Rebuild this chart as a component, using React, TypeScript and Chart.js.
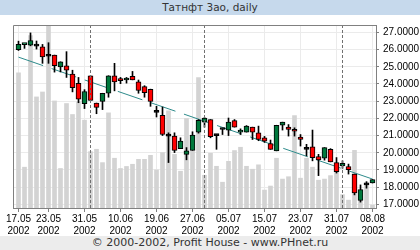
import React, { useEffect, useRef } from 'react';
import { Chart, registerables } from 'chart.js';

Chart.register(...registerables);

const title = 'Татнфт 3ао, daily';
const footer = '© 2000-2002, Profit House - www.PHnet.ru';
const year = '2002';

const dates = ['17.05','18.05','20.05','21.05','22.05','23.05','24.05','27.05','28.05','29.05','30.05','31.05','03.06','04.06','05.06','06.06','07.06','10.06','11.06','13.06','14.06','17.06','18.06','19.06','20.06','21.06','24.06','25.06','26.06','27.06','28.06','01.07','02.07','03.07','04.07','05.07','08.07','09.07','10.07','11.07','12.07','15.07','16.07','17.07','18.07','19.07','22.07','23.07','24.07','25.07','26.07','29.07','30.07','31.07','01.08','02.08','05.08','06.08','07.08','08.08'];
const tickDates = ['17.05','23.05','31.05','10.06','19.06','27.06','05.07','15.07','23.07','31.07','08.08'];
const priceTicks = [17, 18, 19, 20, 21, 22, 23, 24, 25, 26, 27];

const opens = [26.00,26.29,26.25,26.20,26.16,25.61,25.68,24.99,25.06,24.58,24.04,22.86,24.48,22.89,22.98,23.46,24.48,24.31,24.23,24.44,24.13,23.85,23.69,22.35,22.18,20.97,20.97,20.24,19.91,20.14,21.20,21.78,21.93,21.00,21.35,21.32,21.87,21.20,21.20,21.49,21.16,20.87,20.53,20.11,21.60,21.49,21.28,20.91,20.20,20.34,19.78,19.68,20.20,19.43,19.24,19.20,18.76,17.23,18.13,18.24];
const highs = [26.49,26.31,26.97,26.50,26.30,26.40,25.68,25.29,25.88,24.80,24.38,23.67,24.48,22.89,23.46,24.48,25.20,24.38,24.38,24.73,24.23,23.90,23.70,22.70,22.66,21.16,21.16,20.87,20.30,21.22,21.93,22.05,21.93,21.06,21.39,22.02,21.93,21.39,21.58,21.49,21.55,20.95,20.74,21.60,21.78,21.64,21.45,21.06,20.49,21.32,19.91,20.30,20.24,19.72,19.53,19.34,18.76,18.13,18.32,18.44];
const lows = [25.95,26.07,26.22,26.03,25.20,25.20,24.69,24.70,24.38,23.54,22.91,22.57,23.04,22.27,22.51,23.23,23.60,24.02,24.05,24.24,23.46,23.23,22.70,22.08,21.00,19.43,20.01,20.24,19.59,20.14,21.14,21.49,20.87,20.20,21.06,21.00,21.49,21.06,21.20,20.77,20.70,20.60,20.20,20.11,21.32,20.97,20.97,20.39,19.82,19.53,18.67,19.57,19.47,18.82,19.10,18.76,17.55,17.13,17.94,18.24];
const closes = [26.30,26.31,26.53,26.20,25.58,25.61,25.06,25.29,24.81,23.78,23.12,23.56,23.04,22.64,23.46,24.48,24.12,24.19,24.25,24.24,23.62,23.50,22.98,22.35,21.06,20.97,20.14,20.68,20.11,21.03,21.89,22.02,20.93,21.00,21.35,21.78,21.49,21.32,21.55,21.20,20.77,20.68,20.20,21.60,21.78,21.35,21.25,20.77,20.20,19.72,19.59,20.30,19.47,18.90,19.38,19.01,17.67,17.86,18.13,18.44];
const volumes = [73.8,22.3,94.2,60.7,63.4,105,58.5,21.6,57.1,51.1,58.0,48.0,30.8,32.1,24.8,52.0,27.2,21.6,22.7,23.9,26.6,26.6,28.8,20.8,30.3,53.1,29.3,20.1,48.9,31.0,71.2,17.9,29.9,22.8,14.1,25.5,31.4,33.2,22.8,21.2,23.6,9.8,12.0,27.2,15.8,17.1,50.5,16.3,27.2,22.3,15.2,15.8,17.7,21.2,7.3,4.3,31.5,6.0,13.6,1.6];

const trendStart = 25.56;
const trendEnd = 18.47;

const GREEN = '#00783c';
const RED = '#ff0000';
const FONT_AXIS = { family: "'Liberation Sans Narrow', 'Liberation Sans', Arial, sans-serif", size: 10 };

const tickIdx = tickDates.map((d) => dates.indexOf(d));
const monthStarts = dates
  .map((d, i) => (i > 0 && d.slice(3) !== dates[i - 1].slice(3) ? i : -1))
  .filter((i) => i >= 0);

const framePlugin = {
  id: 'frame',
  afterDraw(chart: any) {
    const { ctx, chartArea } = chart;
    ctx.save();
    ctx.strokeStyle = '#808080';
    ctx.lineWidth = 1;
    ctx.beginPath();
    ctx.moveTo(chartArea.left + 0.5, chartArea.bottom);
    ctx.lineTo(chartArea.left + 0.5, chartArea.top + 0.5);
    ctx.lineTo(chartArea.right, chartArea.top + 0.5);
    ctx.stroke();
    ctx.restore();
  },
};

const monthPlugin = {
  id: 'months',
  afterDatasetsDraw(chart: any) {
    const { ctx, chartArea, scales } = chart;
    ctx.save();
    ctx.strokeStyle = '#707070';
    ctx.lineWidth = 1;
    ctx.setLineDash([3, 2]);
    monthStarts.forEach((i) => {
      const x = scales.x.getPixelForValue(i);
      ctx.beginPath();
      ctx.moveTo(x, chartArea.top);
      ctx.lineTo(x, chartArea.bottom);
      ctx.stroke();
    });
    ctx.restore();
  },
};

export default function App() {
  const ref = useRef<HTMLCanvasElement>(null);

  useEffect(() => {
    if (!ref.current) return;
    const bodies = opens.map((o, i) => ({ x: i, y: [o, closes[i]] }));
    const wicks = lows.map((l, i) => ({ x: i, y: [l, highs[i]] }));
    const vols = volumes.map((v, i) => ({ x: i, y: v }));
    const bodyColors = opens.map((o, i) => (closes[i] > o ? GREEN : closes[i] < o ? RED : '#000'));

    const chart = new Chart(ref.current, {
      type: 'bar',
      data: {
        datasets: [
          {
            type: 'bar',
            data: bodies as any,
            yAxisID: 'y',
            backgroundColor: bodyColors,
            borderColor: '#000',
            borderWidth: 1,
            borderSkipped: false,
            barThickness: 5,
            maxBarThickness: 5,
            minBarLength: 2,
            grouped: false,
            order: 1,
          } as any,
          {
            type: 'bar',
            data: wicks as any,
            yAxisID: 'y',
            backgroundColor: '#000',
            borderWidth: 0,
            barThickness: 1,
            maxBarThickness: 1,
            grouped: false,
            order: 2,
          } as any,
          {
            type: 'line',
            data: [
              { x: 0, y: trendStart },
              { x: dates.length - 1, y: trendEnd },
            ],
            yAxisID: 'y',
            borderColor: '#2e8b8b',
            borderWidth: 1,
            borderDash: [26, 9],
            pointRadius: 0,
            order: 3,
          } as any,
          {
            type: 'bar',
            data: vols as any,
            yAxisID: 'yv',
            backgroundColor: '#d3d3d3',
            borderWidth: 0,
            barThickness: 4,
            maxBarThickness: 4,
            grouped: false,
            order: 4,
          } as any,
        ],
      },
      options: {
        animation: false,
        responsive: false,
        devicePixelRatio: 1,
        layout: { padding: { left: 13, top: 8, right: 0, bottom: 0 } },
        plugins: { legend: { display: false }, tooltip: { enabled: false } },
        scales: {
          x: {
            type: 'linear',
            min: -0.9167,
            max: 59.583,
            offset: false,
            afterBuildTicks: (s: any) => {
              s.ticks = tickIdx.map((v) => ({ value: v }));
            },
            afterFit: (s: any) => {
              s.height = 28;
            },
            ticks: {
              autoSkip: false,
              maxRotation: 0,
              padding: 1,
              color: '#000',
              font: FONT_AXIS,
              callback: (v: any) => [dates[Number(v)], year],
            },
            grid: { color: '#ebebeb', tickColor: '#808080', tickLength: 4, offset: false },
            border: { color: '#808080' },
          } as any,
          y: {
            position: 'right',
            min: 16.787,
            max: 27.43,
            afterBuildTicks: (s: any) => {
              s.ticks = priceTicks.map((v) => ({ value: v }));
            },
            afterFit: (s: any) => {
              s.width = 44;
            },
            ticks: {
              padding: 4,
              color: '#000',
              font: FONT_AXIS,
              callback: (v: any) => Number(v).toFixed(4),
            },
            grid: { color: '#ebebeb', tickColor: '#808080', tickLength: 3 },
            border: { color: '#808080' },
          } as any,
          yv: { display: false, min: 0, max: 100 },
        },
      },
      plugins: [framePlugin, monthPlugin],
    } as any);
    return () => chart.destroy();
  }, []);

  return (
    <div style={{ position: 'absolute', left: 0, top: 0, width: 420, height: 250, background: '#fff', overflow: 'hidden' }}>
      <div
        style={{
          height: 15,
          background: '#c6d9ec',
          color: '#333',
          font: "10.5px 'DejaVu Sans', sans-serif",
          lineHeight: '15px',
          textAlign: 'center',
        }}
      >
        {title}
      </div>
      <canvas ref={ref} width={420} height={221} style={{ display: 'block', width: 420, height: 221 }} />
      <div
        style={{
          height: 14,
          background: '#ececec',
          color: '#333',
          font: "11px 'DejaVu Sans', sans-serif",
          lineHeight: '14px',
          textAlign: 'center',
        }}
      >
        {footer}
      </div>
    </div>
  );
}
